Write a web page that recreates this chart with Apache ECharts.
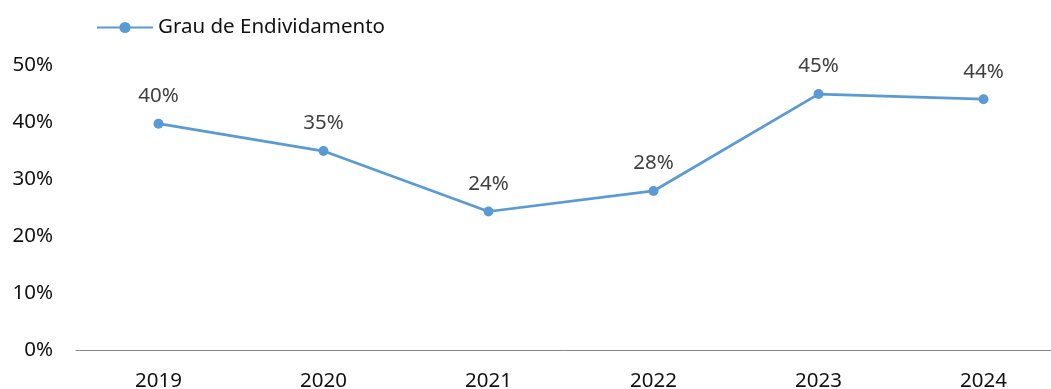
<!DOCTYPE html>
<html>
<head>
<meta charset="utf-8">
<script src="https://cdn.jsdelivr.net/npm/echarts@6/dist/echarts.min.js"></script>
<style>
  html, body { margin: 0; padding: 0; background: #fff; }
  #chart { width: 1051px; height: 389px; }
</style>
</head>
<body>
<div id="chart"></div>
<script>
// Debt ratio by year
const years = ['2019', '2020', '2021', '2022', '2023', '2024'];
const grauEndividamento = [39.7, 34.9, 24.3, 27.9, 44.9, 44.0];
const yTicks = [0, 10, 20, 30, 40, 50];

const FONT = '"Noto Sans", "Open Sans", sans-serif';
const FS = 20.5;

const chart = echarts.init(document.getElementById('chart'), null, { renderer: 'canvas' });
chart.setOption({
  animation: false,
  backgroundColor: '#ffffff',
  textStyle: { fontFamily: FONT },
  legend: {
    left: 91,
    top: 12,
    itemWidth: 56,
    itemHeight: 14,
    textStyle: { fontFamily: FONT, fontSize: FS, color: '#111111' },
    data: ['Grau de Endividamento']
  },
  // the category band runs a little past the right edge of the canvas
  grid: {
    left: 76, width: 990, top: 65, bottom: 39,
    containLabel: false,
    outerBoundsMode: 'none'
  },
  xAxis: {
    type: 'category',
    data: years,
    boundaryGap: true,
    axisLine: { show: true, lineStyle: { color: '#868686', width: 1 } },
    axisTick: { show: false },
    axisLabel: { fontFamily: FONT, fontSize: FS, color: '#111111', margin: 21 }
  },
  yAxis: {
    type: 'value',
    min: yTicks[0],
    max: yTicks[yTicks.length - 1],
    interval: 10,
    axisLine: { show: false },
    axisTick: { show: false },
    splitLine: { show: false },
    axisLabel: {
      fontFamily: FONT, fontSize: FS, color: '#111111', margin: 23,
      formatter: v => v + '%'
    }
  },
  series: [{
    name: 'Grau de Endividamento',
    type: 'line',
    data: grauEndividamento,
    symbol: 'circle',
    symbolSize: 10,
    lineStyle: { color: '#5B9BD5', width: 2.75 },
    itemStyle: { color: '#5B9BD5' },
    label: {
      show: true,
      position: 'top',
      distance: 12,
      fontFamily: FONT,
      fontSize: FS,
      color: '#404040',
      formatter: p => Math.round(p.value) + '%'
    }
  }]
});
</script>
</body>
</html>
